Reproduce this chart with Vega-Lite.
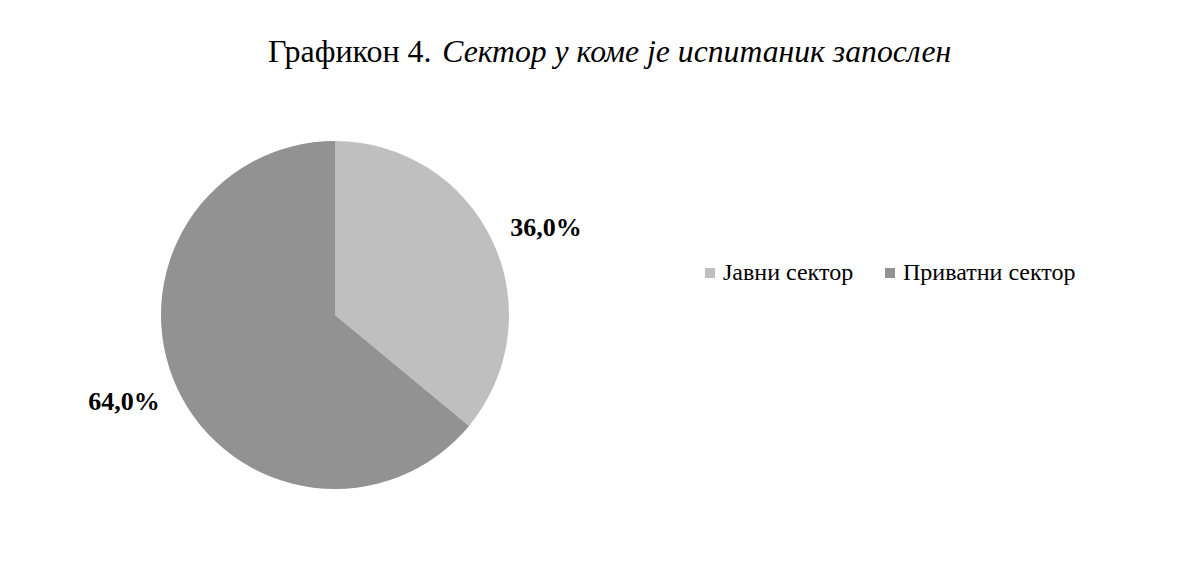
{
  "$schema": "https://vega.github.io/schema/vega-lite/v6.json",
  "width": 670,
  "height": 348,
  "autosize": "none",
  "padding": {"left": 0, "top": 141, "right": 530, "bottom": 81},
  "background": "white",
  "title": {
    "text": "Графикон 4.",
    "subtitle": "\u200b\u00a0\u00a0\u00a0\u00a0\u00a0\u00a0\u00a0\u00a0\u00a0\u00a0\u00a0\u00a0\u00a0\u00a0\u00a0\u00a0\u00a0\u00a0\u00a0\u00a0\u00a0\u00a0Сектор у коме је испитаник запослен",
    "anchor": "start",
    "frame": "group",
    "dx": 268,
    "offset": 71,
    "font": "Liberation Serif",
    "fontSize": 32,
    "fontWeight": "normal",
    "color": "black",
    "subtitleFont": "Liberation Serif",
    "subtitleFontSize": 31.7,
    "subtitleFontStyle": "italic",
    "subtitleColor": "black",
    "subtitlePadding": -32
  },
  "data": {
    "values": [
      {"sector": "Јавни сектор", "share": 0.36},
      {"sector": "Приватни сектор", "share": 0.64}
    ]
  },
  "encoding": {
    "theta": {"field": "share", "type": "quantitative", "stack": true}
  },
  "layer": [
    {
      "mark": {"type": "arc"},
      "encoding": {
        "color": {
          "field": "sector",
          "type": "nominal",
          "scale": {"domain": ["Јавни сектор", "Приватни сектор"], "range": ["#bfbfbf", "#929292"]},
          "legend": {
            "orient": "none",
            "legendX": 698,
            "legendY": 120,
            "direction": "horizontal",
            "title": null,
            "symbolType": "square",
            "symbolSize": 100,
            "symbolStrokeWidth": 0,
            "labelFont": "Liberation Serif",
            "labelFontSize": 24,
            "labelColor": "black",
            "labelOffset": 1,
            "columnPadding": 24,
            "labelLimit": 400
          }
        }
      }
    },
    {
      "mark": {"type": "text", "radius": 228, "thetaOffset": 0.05, "font": "Liberation Serif", "fontSize": 26, "fontWeight": "bold"},
      "encoding": {
        "detail": {"field": "sector", "type": "nominal"},
        "color": {"value": "black"},
        "text": {"field": "share", "type": "quantitative", "format": ".1%"}
      }
    }
  ],
  "config": {
    "view": {"stroke": null},
    "locale": {"number": {"decimal": ",", "thousands": ".", "grouping": [3], "currency": ["", " RSD"], "percent": "%"}}
  }
}
